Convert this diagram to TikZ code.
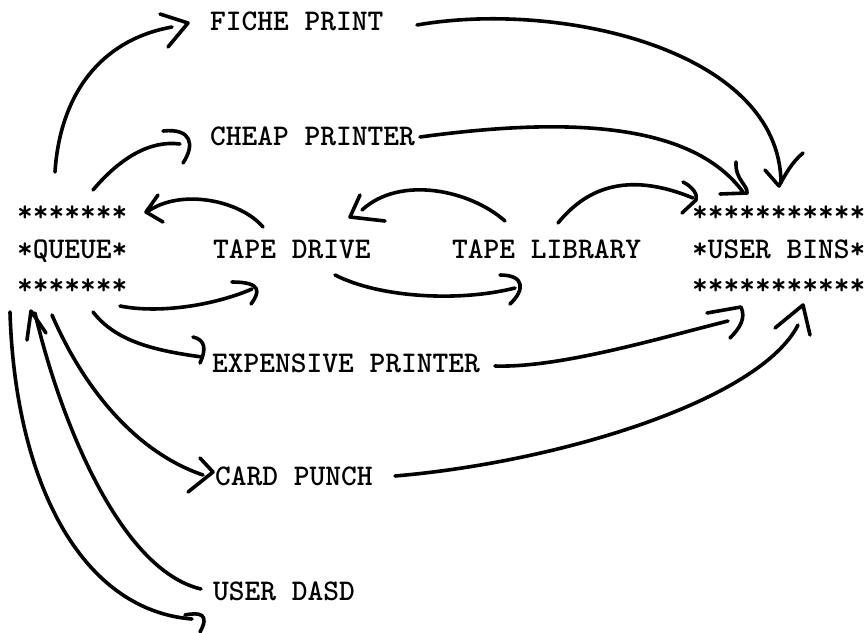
\documentclass[tikz,border=0pt]{standalone}
\usepackage{fontspec}
\begin{document}
\begin{tikzpicture}[x=1pt,y=-1pt,
  lbl/.style={anchor=base west, inner sep=0pt, font=\ttfamily\bfseries\fontsize{30}{36}\selectfont},
  hand/.style={line width=3.6pt, line cap=round, line join=round}]
\useasboundingbox (0,0) rectangle (867,632);
% ---------------- nodes ----------------
\node[lbl] (fiche)     at (210,30)  {FICHE PRINT};
\node[lbl] (cheap)     at (210,145) {CHEAP PRINTER};
\node[lbl] (qtop)      at (17,221)  {*******};
\node[lbl] (queue)     at (17,258)  {*QUEUE*};
\node[lbl] (qbot)      at (17,294)  {*******};
\node[lbl] (tapedrive) at (213,258) {TAPE DRIVE};
\node[lbl] (tapelib)   at (452,258) {TAPE LIBRARY};
\node[lbl] (btop)      at (692,221) {***********};
\node[lbl] (bins)      at (692,258) {*USER BINS*};
\node[lbl] (bbot)      at (692,294) {***********};
\node[lbl] (expensive) at (212,372) {EXPENSIVE PRINTER};
\node[lbl] (card)      at (215,485) {CARD PUNCH};
\node[lbl] (dasd)      at (213,600) {USER DASD};
% ---------------- connector end points ----------------
\coordinate (q-fiche)   at (55,172);   \coordinate (fiche-in)  at (172,27);
\coordinate (q-cheap)   at (93,190);   \coordinate (cheap-in)  at (180,144);
\coordinate (td-q)      at (263,227);  \coordinate (q-in)      at (147,212);
\coordinate (q-td)      at (120,306);  \coordinate (td-in)     at (252,289);
\coordinate (tl-td)     at (505,221);  \coordinate (td-in2)    at (362,210);
\coordinate (td-tl)     at (335,275);  \coordinate (tl-in)     at (515,288);
\coordinate (tl-b)      at (558,223);  \coordinate (b-in1)     at (693,198);
\coordinate (cheap-out) at (420,137);  \coordinate (b-in2)     at (743,192);
\coordinate (fiche-out) at (417,25);   \coordinate (b-in3)     at (781,183);
\coordinate (q-exp)     at (93,312);   \coordinate (exp-in)    at (202,357);
\coordinate (exp-out)   at (495,366);  \coordinate (b-in4)     at (728,321);
\coordinate (q-card)    at (52,315);   \coordinate (card-in)   at (203,475);
\coordinate (card-out)  at (395,476);  \coordinate (b-in5)     at (798,325);
\coordinate (dasd-out)  at (201,589);  \coordinate (q-in2)     at (35,313);
\coordinate (q-out)     at (10,312);   \coordinate (free-end)  at (192,619);
% ---------------- connectors ----------------
% queue -> fiche print
\draw[hand] (q-fiche) .. controls (60,95) and (100,40) .. (fiche-in);
\draw[hand] (160,14) -- (188,23) -- (168,47);
% queue -> cheap printer
\draw[hand] (q-cheap) .. controls (120,158) and (150,140) .. (cheap-in);
\draw[hand] (163,131) .. controls (192,128) and (195,145) .. (183,163);
% tape drive -> queue
\draw[hand] (td-q) .. controls (240,200) and (180,188) .. (q-in);
\draw[hand] (158,195) -- (146,212) -- (163,222);
% queue -> tape drive
\draw[hand] (q-td) .. controls (160,314) and (215,305) .. (td-in);
\draw[hand] (232,282) .. controls (262,282) and (260,292) .. (251,304);
% tape library -> tape drive
\draw[hand] (tl-td) .. controls (470,190) and (400,175) .. (td-in2);
\draw[hand] (360,195) -- (350,217) -- (385,221);
% tape drive -> tape library
\draw[hand] (td-tl) .. controls (380,298) and (460,302) .. (tl-in);
\draw[hand] (500,275) .. controls (525,275) and (525,290) .. (510,304);
% tape library -> user bins
\draw[hand] (tl-b) .. controls (585,190) and (625,170) .. (b-in1);
\draw[hand] (683,182) .. controls (693,187) and (698,195) .. (696,200) -- (682,213);
% cheap printer -> user bins
\draw[hand] (cheap-out) .. controls (560,118) and (690,120) .. (b-in2);
\draw[hand] (736,162) .. controls (735,180) and (748,185) .. (747,193) -- (720,194);
% fiche print -> user bins
\draw[hand] (fiche-out) .. controls (560,0) and (780,50) .. (b-in3);
\draw[hand] (765,170) -- (779,186) .. controls (785,175) and (792,162) .. (803,153);
% queue -> expensive printer
\draw[hand] (q-exp) .. controls (115,340) and (150,350) .. (exp-in);
\draw[hand] (193,337) .. controls (206,340) and (206,350) .. (200,363);
% expensive printer -> user bins
\draw[hand] (exp-out) .. controls (560,368) and (660,338) .. (b-in4);
\draw[hand] (707,313) -- (741,307) .. controls (746,318) and (740,328) .. (730,338);
% queue -> card punch
\draw[hand] (q-card) .. controls (80,380) and (130,450) .. (card-in);
\draw[hand] (200,458) -- (213,472) -- (188,492);
% card punch -> user bins
\draw[hand] (card-out) .. controls (560,462) and (760,400) .. (b-in5);
\draw[hand] (775,328) -- (803,305) -- (810,335);
% user dasd -> queue
\draw[hand] (dasd-out) .. controls (120,570) and (60,420) .. (q-in2);
\draw[hand] (27,340) -- (31,311) -- (46,333);
% queue -> (bottom)
\draw[hand] (q-out) .. controls (15,480) and (80,610) .. (free-end);
\draw[hand] (185,615) .. controls (200,612) and (210,614) .. (200,632);
\end{tikzpicture}
\end{document}
